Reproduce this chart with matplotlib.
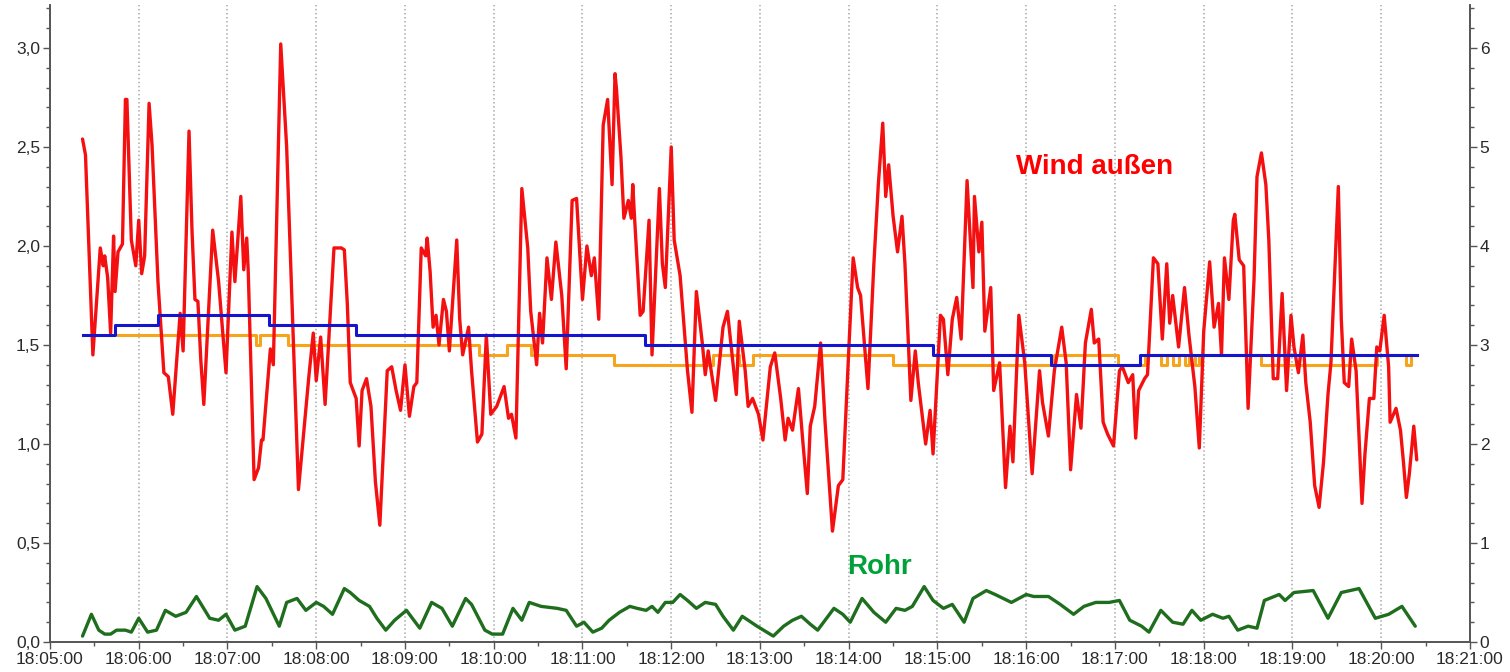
import matplotlib
matplotlib.use("Agg")
import matplotlib.pyplot as plt
import matplotlib.dates as mdates
from matplotlib.ticker import MultipleLocator, FuncFormatter
import pandas as pd

# seconds after 18:05:00
red_t = [22, 24, 29, 34, 36, 37, 39, 41, 43, 44, 46, 49, 51, 52, 55, 58, 60, 62, 64, 67, 69, 73, 77, 80, 83, 88, 90, 94, 96, 98, 100,
         102, 104, 110, 114, 119, 123, 125, 129, 131, 133, 134, 138, 141, 143, 144, 149, 151, 156, 160, 168, 175, 178, 180, 183, 186, 192, 197,
         199, 201, 203, 207, 209, 211, 214, 217, 220, 223, 228, 231, 234, 237, 240, 243, 246, 248, 251, 254, 255, 257, 259, 261, 263, 266, 268,
         270, 275, 277, 279, 283, 285, 289, 292, 295, 298, 302, 307, 310, 312, 315, 319, 323, 325, 329, 331, 333, 336, 339, 342, 346, 349, 353,
         356, 360, 363, 366, 368, 371, 374, 377, 380, 382,
         383, 386, 388, 391, 393, 394, 395, 399, 401, 405, 407, 412, 414, 416, 420, 422, 426, 431, 434, 437, 441, 443, 445, 450, 455, 458, 460,
         464, 466, 470, 472, 475, 479, 482, 487, 490, 494, 497, 499, 502, 506, 509, 512, 514, 517, 521, 524, 529, 533, 536, 540, 543, 546, 548,
         553, 557,
         560, 563, 565, 567, 570, 573, 576, 578, 582, 585, 587, 592, 595, 597, 602, 604, 607, 610, 613, 616, 620, 624, 625, 628, 630, 632, 636,
         638, 642, 646, 649, 651, 655, 659, 664, 669, 671, 675, 679, 684, 687, 690, 694, 697, 700, 704, 706, 709, 712, 715, 719, 723, 725, 729,
         732, 734, 736,
         740, 742, 746, 749, 752, 755, 757, 759, 763, 767, 770, 774, 777, 780, 784, 787, 790, 792, 794, 797, 800, 801, 804, 807, 810, 814, 816,
         819, 822, 824, 827, 830, 833, 836, 839, 841, 844, 847, 849, 852, 855, 858, 861, 864, 866, 871, 873, 875, 878, 880, 883, 887, 889, 892,
         895, 897, 899, 902, 905, 906, 910, 913, 915, 917, 919, 922, 924]
red_v = [2.54, 2.46, 1.45, 1.99, 1.90, 1.95, 1.84, 1.56, 2.05, 1.77, 1.97, 2.01, 2.74, 2.74, 2.03, 1.90, 2.13, 1.86, 1.95, 2.72, 2.51, 1.82, 1.36, 1.34, 1.15, 1.66, 1.47, 2.58, 2.08, 1.73, 1.72,
         1.42, 1.20, 2.08, 1.82, 1.36, 2.07, 1.82, 2.25, 1.88, 2.04, 1.88, 0.82, 0.88, 1.02, 1.02, 1.48, 1.40, 3.02, 2.50, 0.77, 1.34, 1.56, 1.32, 1.54, 1.20, 1.99, 1.99,
         1.98, 1.71, 1.31, 1.23, 0.99, 1.27, 1.33, 1.19, 0.81, 0.59, 1.37, 1.39, 1.27, 1.17, 1.40, 1.14, 1.29, 1.31, 1.99, 1.95, 2.04, 1.87, 1.59, 1.65, 1.50, 1.73, 1.67,
         1.47, 2.03, 1.63, 1.45, 1.59, 1.37, 1.01, 1.05, 1.55, 1.15, 1.19, 1.29, 1.13, 1.15, 1.03, 2.29, 1.99, 1.67, 1.40, 1.66, 1.51, 1.94, 1.73, 2.02, 1.75, 1.38, 2.23,
         2.24, 1.73, 2.00, 1.85, 1.94, 1.63, 2.61, 2.74, 2.31, 2.87,
         2.79, 2.45, 2.14, 2.23, 2.14, 2.31, 2.17, 1.65, 1.67, 2.13, 1.45, 2.29, 1.91, 1.79, 2.50, 2.03, 1.85, 1.37, 1.16, 1.77, 1.51, 1.35, 1.47, 1.22, 1.59, 1.67, 1.53,
         1.25, 1.62, 1.37, 1.19, 1.23, 1.15, 1.02, 1.39, 1.46, 1.23, 1.02, 1.13, 1.07, 1.28, 1.01, 0.75, 1.09, 1.19, 1.51, 1.11, 0.56, 0.79, 0.82, 1.47, 1.94, 1.79, 1.75,
         1.28, 1.91,
         2.31, 2.62, 2.25, 2.41, 2.15, 1.97, 2.15, 1.91, 1.22, 1.47, 1.31, 1.00, 1.17, 0.95, 1.65, 1.63, 1.35, 1.63, 1.74, 1.53, 2.33, 1.79, 2.25, 1.97, 2.12, 1.57, 1.79,
         1.27, 1.41, 0.78, 1.09, 0.91, 1.65, 1.41, 0.85, 1.37, 1.21, 1.04, 1.37, 1.59, 1.41, 0.87, 1.25, 1.08, 1.51, 1.68, 1.51, 1.53, 1.11, 1.05, 0.99, 1.37, 1.39, 1.31,
         1.35, 1.03, 1.27,
         1.33, 1.35, 1.94, 1.91, 1.53, 1.91, 1.61, 1.75, 1.49, 1.79, 1.55, 1.29, 0.98, 1.57, 1.92, 1.59, 1.71, 1.45, 1.94, 1.73, 2.13, 2.16, 1.93, 1.90, 1.18, 1.83, 2.35,
         2.47, 2.31, 2.03, 1.33, 1.33, 1.76, 1.27, 1.65, 1.49, 1.36, 1.55, 1.31, 1.11, 0.79, 0.68, 0.91, 1.25, 1.41, 2.30, 1.63, 1.31, 1.29, 1.53, 1.37, 0.70, 0.95, 1.23,
         1.23, 1.49, 1.47, 1.65, 1.39, 1.11, 1.18, 1.07, 0.91, 0.73, 0.85, 1.09, 0.92]

green_t = [22, 28, 33, 37, 41, 45, 51, 55, 60, 66, 72, 78, 85, 92, 99, 108, 114, 119, 125, 132, 140, 146, 155, 160, 167, 173, 180, 185, 191,
           199, 203, 209, 216, 221, 227, 233, 241, 245, 250, 258, 265, 272, 281, 285, 294, 299, 306, 313, 319, 324, 332, 343, 349, 356, 361,
           367, 373, 378, 385, 392, 397, 403, 407, 411, 416, 421, 426, 431, 437, 443, 450, 455, 462, 468, 478, 489, 496, 502, 508, 514, 519,
           530, 536, 541, 549, 557, 565, 572, 578, 583, 591, 597, 604, 610, 618, 624, 633, 639, 650, 660, 665, 675, 683, 692, 699, 707, 716,
           723, 730, 738, 743, 751, 759, 766, 772, 778, 786, 793, 797, 803, 810, 816, 821, 831, 835, 841, 854, 864, 873, 885, 896, 905, 914, 923]
green_v = [0.03, 0.14, 0.06, 0.04, 0.04, 0.06, 0.06, 0.05, 0.12, 0.05, 0.06, 0.16, 0.13, 0.15, 0.23, 0.12, 0.11, 0.14, 0.06, 0.08, 0.28, 0.22, 0.08,
           0.20, 0.22, 0.16, 0.20, 0.18, 0.14, 0.27, 0.25, 0.21, 0.18, 0.12, 0.06, 0.11, 0.16, 0.12, 0.07, 0.20, 0.17, 0.08, 0.22, 0.19, 0.06,
           0.04, 0.04, 0.17, 0.11, 0.20, 0.18, 0.17, 0.16, 0.08, 0.10, 0.05, 0.07, 0.11, 0.15, 0.18, 0.17, 0.16, 0.18, 0.15, 0.20, 0.20, 0.24,
           0.21, 0.17, 0.20, 0.19, 0.13, 0.06, 0.13, 0.08, 0.03, 0.08, 0.11, 0.13, 0.09, 0.06, 0.17, 0.14, 0.10, 0.22, 0.15, 0.10, 0.17, 0.16,
           0.18, 0.28, 0.21, 0.17, 0.19, 0.10, 0.22, 0.26, 0.24, 0.20, 0.24, 0.23, 0.23, 0.19, 0.14, 0.18, 0.20, 0.20, 0.21, 0.11, 0.08, 0.05,
           0.16, 0.10, 0.09, 0.16, 0.11, 0.14, 0.12, 0.13, 0.06, 0.08, 0.07, 0.21, 0.24, 0.21, 0.25, 0.26, 0.12, 0.25, 0.27, 0.12, 0.14, 0.18, 0.08]

# step series: value holds from each time until the next
blue_t = [22, 44, 73, 148, 207, 402, 597, 677, 737, 924]
blue_v = [1.55, 1.60, 1.65, 1.60, 1.55, 1.50, 1.45, 1.40, 1.45, 1.45]

orange_t = [46, 139, 142, 161, 290, 309, 325, 381, 448, 466, 475, 570, 679, 722, 740, 751, 755, 759, 763, 767, 770, 774, 777,
            819, 897, 917, 920, 923]
orange_v = [1.55, 1.50, 1.55, 1.50, 1.45, 1.50, 1.45, 1.40, 1.45, 1.40, 1.45, 1.40, 1.45, 1.40, 1.45, 1.40, 1.45, 1.40, 1.45, 1.40,
            1.45, 1.40, 1.45, 1.40, 1.45, 1.40, 1.45, 1.45]

start = pd.Timestamp("2020-01-01 18:05:00")


def to_time(secs):
    return start + pd.to_timedelta(secs, unit="s")


plt.rcParams['font.family'] = ['Liberation Sans', 'DejaVu Sans']

fig = plt.figure(figsize=(15.1, 6.72), dpi=100)
ax = fig.add_axes([0.0331, 0.0446, 0.9404, 0.948])
ax2 = ax.twinx()

ax.step(to_time(orange_t), orange_v, where='post', color='#f7a41d', lw=2.2, zorder=2)
ax.plot(to_time(red_t), red_v, color='#f41010', lw=2.4, zorder=3,
        solid_joinstyle='round', solid_capstyle='round')
ax.plot(to_time(green_t), green_v, color='#1e6e1e', lw=2.4, zorder=3,
        solid_joinstyle='round', solid_capstyle='round')
ax.step(to_time(blue_t), blue_v, where='post', color='#1515d0', lw=2.2, zorder=4)

ax.text(to_time(706), 2.40, 'Wind außen', color='#ff0000', fontsize=20, fontweight='bold',
        ha='center', va='center')
ax.text(to_time(561), 0.38, 'Rohr', color='#00a13a', fontsize=20, fontweight='bold',
        ha='center', va='center')

ax.set_xlim(to_time(0), to_time(960))
ax.set_ylim(0, 3.217)
ax2.set_ylim(0, 6.434)

ax.xaxis.set_major_locator(mdates.MinuteLocator())
ax.xaxis.set_minor_locator(mdates.SecondLocator(bysecond=[30]))
ax.xaxis.set_major_formatter(mdates.DateFormatter('%H:%M:%S'))
ax.yaxis.set_major_locator(MultipleLocator(0.5))
ax.yaxis.set_minor_locator(MultipleLocator(0.1))
ax.yaxis.set_major_formatter(FuncFormatter(lambda v, p: f"{v:.1f}".replace('.', ',')))
ax2.yaxis.set_major_locator(MultipleLocator(1))
ax2.yaxis.set_minor_locator(MultipleLocator(0.2))

ax.grid(axis='x', which='major', linestyle=':', color='#a8a8a8', lw=1.1)

for a in (ax, ax2):
    a.spines['top'].set_visible(False)
    for s in ('left', 'right', 'bottom'):
        a.spines[s].set_color('#555555')
        a.spines[s].set_linewidth(1.2)
    a.tick_params(which='major', length=5, width=1, color='#555555', labelsize=12.5, labelcolor='#2a2a2a', pad=2)
    a.tick_params(which='minor', length=3, width=1, color='#555555')

fig.savefig('out.png', dpi=100)
